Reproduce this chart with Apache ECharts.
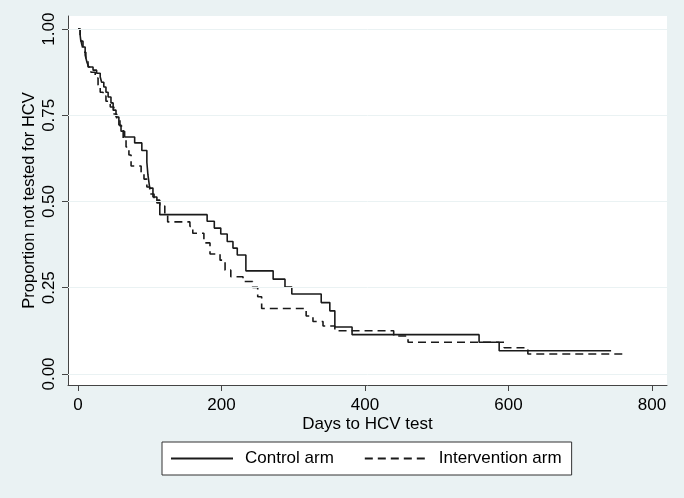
<!DOCTYPE html>
<html>
<head>
<meta charset="utf-8">
<script src="https://cdn.jsdelivr.net/npm/echarts@6/dist/echarts.min.js"></script>
<style>
html,body{margin:0;padding:0;background:#eaf2f3;}
#chart{width:684px;height:498px;}
</style>
</head>
<body>
<div id="chart"></div>
<script>
// Kaplan-Meier step data (day of event, proportion after the event)
const controlDays = [0,3,4,7,10,12.5,15,21,26,31,33,36,39,42,46,49,53,57,60,65,79,89,96,97.5,100,104.5,110,114,180,190,199,208,216,222,234,272,288.5,298,339,351,358,382,559,587,743];
const controlSurv = [1.0,0.983,0.965,0.948,0.925,0.904,0.89,0.881,0.872,0.861,0.846,0.832,0.817,0.803,0.786,0.765,0.745,0.722,0.704,0.687,0.67,0.648,0.614,0.577,0.539,0.513,0.496,0.462,0.443,0.423,0.406,0.384,0.365,0.345,0.299,0.275,0.252,0.232,0.207,0.183,0.136,0.114,0.092,0.0675,0.0675];
const interventionDays = [0,3,5.5,8,11,14,18,24,28,31,35,39,45,50,54,58.5,63,67,71,74,88,92,96,100,106,114,121,125,156,160,175.5,184,198,205,213,230,243.5,250.5,256,318,327.5,341.5,358,440,460,594,627,765];
const interventionSurv = [1.0,0.977,0.954,0.933,0.91,0.89,0.875,0.858,0.838,0.817,0.806,0.791,0.774,0.754,0.739,0.719,0.684,0.658,0.635,0.603,0.586,0.565,0.542,0.522,0.504,0.487,0.464,0.441,0.428,0.408,0.38,0.348,0.33,0.301,0.282,0.268,0.251,0.224,0.19,0.168,0.152,0.139,0.1255,0.110,0.092,0.076,0.058,0.058];
const xTicks = [0,200,400,600,800];
const yTicks = [0,0.25,0.5,0.75,1.0];
const seriesNames = ['Control arm','Intervention arm'];

const zip = (a,b) => a.map((v,i)=>[v,b[i]]);
const FONT = '"Liberation Sans", Arial, sans-serif';
const chart = echarts.init(document.getElementById('chart'), null, {renderer:'canvas'});
chart.setOption({
  backgroundColor:'#eaf2f3',
  animation:false,
  textStyle:{fontFamily:FONT},
  grid:{left:68,right:17,top:16,bottom:113,show:true,backgroundColor:'#ffffff',borderWidth:0,containLabel:false},
  xAxis:{
    type:'value',min:-13.9,max:820.9,
    name:'Days to HCV test',nameLocation:'middle',nameGap:31,nameMoveOverlap:false,
    nameTextStyle:{fontSize:17,color:'#000',fontFamily:FONT},
    axisLine:{show:true,onZero:false,lineStyle:{color:'#444',width:1}},
    axisTick:{show:true,length:6,customValues:xTicks,lineStyle:{color:'#444'}},
    axisLabel:{customValues:xTicks,fontSize:17,color:'#000',margin:12,fontFamily:FONT},
    splitLine:{show:false}
  },
  yAxis:{
    type:'value',min:-0.032,max:1.038,
    name:'Proportion not tested for HCV',nameLocation:'middle',nameGap:30,nameMoveOverlap:false,
    nameTextStyle:{fontSize:16.5,color:'#000',fontFamily:FONT},
    axisLine:{show:true,onZero:false,lineStyle:{color:'#444',width:1}},
    axisTick:{show:true,length:6,customValues:yTicks,lineStyle:{color:'#444'}},
    axisLabel:{customValues:yTicks,rotate:90,fontSize:17,color:'#000',margin:10,fontFamily:FONT,
      formatter:v=>Number(v).toFixed(2)},
    splitLine:{show:false}
  },
  legend:{
    data:seriesNames,
    left:162,top:442,
    orient:'horizontal',
    backgroundColor:'#ffffff',borderColor:'#333',borderWidth:1,
    padding:[8,10,8,8],
    itemWidth:62,itemHeight:14,itemGap:30,
    itemStyle:{opacity:0},
    textStyle:{fontSize:17,color:'#000',fontFamily:FONT,padding:[0,0,0,7]}
  },
  series:[
    {
      name:'grid',type:'line',data:[[-100,-100]],symbol:'none',z:1,silent:true,
      lineStyle:{opacity:0},
      markLine:{silent:true,symbol:'none',label:{show:false},animation:false,
        lineStyle:{color:'#eaf2f3',type:'solid',width:1},
        data:yTicks.map(v=>({yAxis:v}))}
    },
    {
      name:seriesNames[0],type:'line',step:'end',symbol:'none',z:3,
      data:zip(controlDays,controlSurv),
      lineStyle:{color:'#1a1a1a',width:1.6,type:'solid'},
      itemStyle:{color:'#1a1a1a'}
    },
    {
      name:seriesNames[1],type:'line',step:'end',symbol:'none',z:3,
      data:zip(interventionDays,interventionSurv),
      lineStyle:{color:'#1a1a1a',width:1.6,type:[8,5]},
      itemStyle:{color:'#1a1a1a'}
    }
  ]
});
</script>
</body>
</html>
